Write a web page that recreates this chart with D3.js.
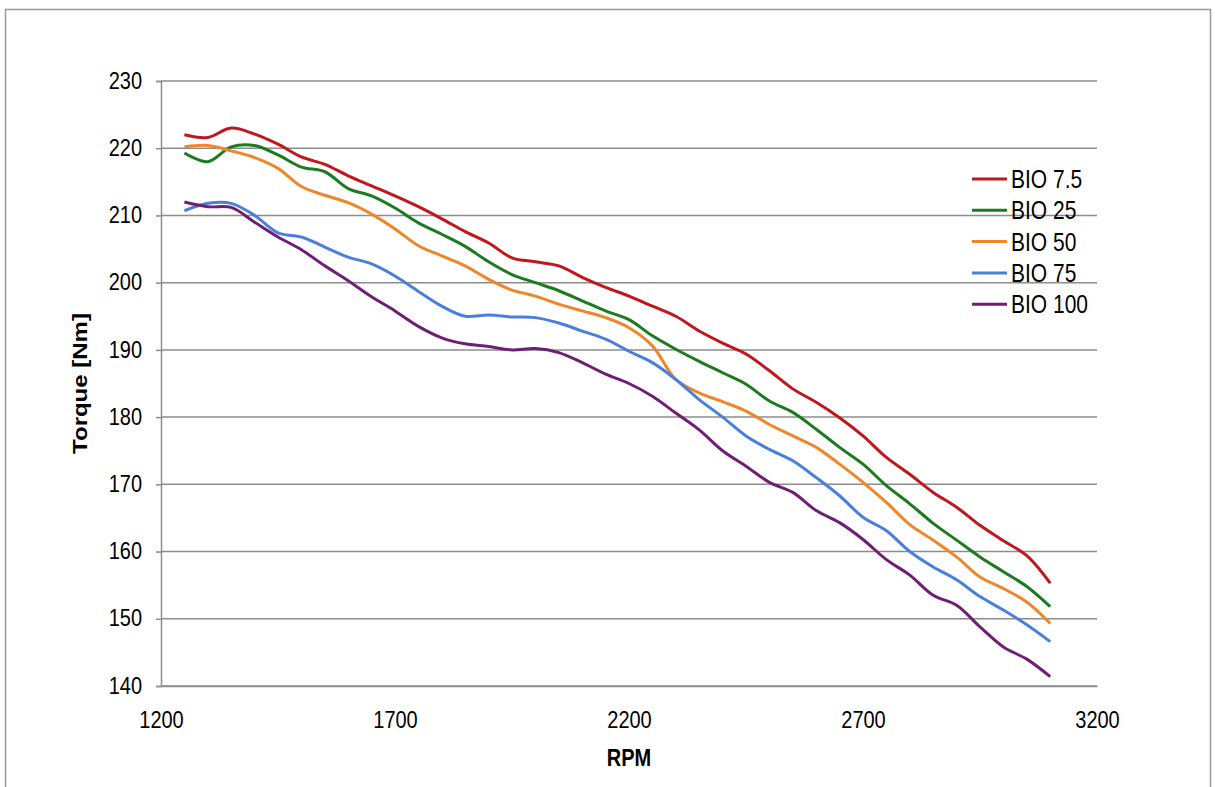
<!DOCTYPE html>
<html lang="en">
<head>
    <meta charset="UTF-8">
    <script type="text/javascript" src="https://d3js.org/d3.v7.min.js"></script>
    <title>Torque vs RPM</title>
    <style>
        body { margin: 0; background: #fff; }
        text { font-family: "Liberation Sans", Arial, sans-serif; fill: #000; }
    </style>
</head>
<body>
    <svg id="plot"></svg>
    <script>
        const width = 1215;
        const height = 787;
        const margin = {"top": 81, "bottom": 101, "left": 161, "right": 118};
        const stretch = "scale(1,1.2)"; // the source image text is a bit taller than wide

        const rpm = [1250, 1300, 1350, 1400, 1450, 1500, 1550, 1600, 1650, 1700, 1750, 1800, 1850, 1900, 1950,
                     2000, 2050, 2100, 2150, 2200, 2250, 2300, 2350, 2400, 2450, 2500, 2550, 2600, 2650, 2700,
                     2750, 2800, 2850, 2900, 2950, 3000, 3050, 3100];
        const bio7_5 = [222.0, 221.6, 223.0, 222.1, 220.6, 218.7, 217.6, 215.9, 214.4, 212.9, 211.3, 209.5, 207.6,
                        205.9, 203.7, 203.1, 202.5, 200.8, 199.3, 198.0, 196.5, 195.0, 192.8, 191.0, 189.4, 186.9,
                        184.2, 182.2, 179.9, 177.2, 174.0, 171.5, 168.8, 166.6, 163.9, 161.6, 159.4, 155.3];
        const bio25 = [219.3, 218.0, 220.2, 220.4, 219.0, 217.2, 216.5, 214.0, 212.9, 211.1, 208.9, 207.2, 205.4,
                       203.1, 201.2, 200.0, 198.8, 197.3, 195.8, 194.5, 192.1, 190.1, 188.3, 186.6, 184.9, 182.4,
                       180.7, 178.2, 175.5, 173.0, 169.8, 167.1, 164.2, 161.7, 159.2, 157.0, 154.8, 151.8];
        const bio50 = [220.2, 220.4, 219.6, 218.6, 217.0, 214.3, 213.0, 211.9, 210.2, 208.0, 205.5, 204.0, 202.5,
                       200.5, 198.9, 198.0, 196.8, 195.8, 194.8, 193.3, 190.6, 185.6, 183.6, 182.3, 180.9, 178.9,
                       177.2, 175.5, 173.0, 170.3, 167.3, 164.0, 161.7, 159.2, 156.2, 154.5, 152.5, 149.3];
        const bio75 = [210.7, 211.8, 211.8, 210.0, 207.4, 206.8, 205.3, 203.8, 202.8, 201.0, 198.7, 196.5, 195.0,
                       195.2, 194.9, 194.8, 194.0, 192.8, 191.6, 189.8, 188.1, 185.6, 182.6, 180.0, 177.2, 175.2,
                       173.5, 171.0, 168.3, 165.1, 163.1, 160.0, 157.7, 155.8, 153.3, 151.3, 149.1, 146.6];
        const bio100 = [212.0, 211.3, 211.2, 209.0, 206.8, 204.9, 202.5, 200.3, 197.9, 195.8, 193.5, 191.8, 190.9,
                        190.5, 190.0, 190.2, 189.6, 188.1, 186.4, 185.0, 183.1, 180.6, 178.1, 175.0, 172.7, 170.3,
                        168.8, 166.1, 164.3, 161.8, 158.8, 156.5, 153.5, 152.0, 148.8, 145.8, 144.0, 141.4];

        const seriesNames = ["BIO 7.5", "BIO 25", "BIO 50", "BIO 75", "BIO 100"];
        const seriesValues = [bio7_5, bio25, bio50, bio75, bio100];
        const seriesColors = ["#c0161c", "#1d7b1f", "#f0862a", "#4a7fdc", "#6e1f73"];
        const xTicks = [1200, 1700, 2200, 2700, 3200];
        const yTicks = [140, 150, 160, 170, 180, 190, 200, 210, 220, 230];

        const svg = d3.select("#plot").attr("width", width).attr("height", height);

        // outer frame
        svg.append("rect").attr("x", 5.5).attr("y", 9.5).attr("width", 1205).attr("height", 790)
            .attr("fill", "none").attr("stroke", "#999").attr("stroke-width", 1.5);

        var x = d3.scaleLinear()
            .domain([1200, 3200])
            .range([margin.left, width - margin.right]);
        var y = d3.scaleLinear()
            .domain([140, 230])
            .range([height - margin.bottom, margin.top]);

        // gridlines
        svg.append("g").selectAll("line").data(yTicks).join("line")
            .attr("x1", x(1200)).attr("x2", x(3200))
            .attr("y1", d => y(d)).attr("y2", d => y(d))
            .attr("stroke", "#8c8c8c").attr("stroke-width", 1.5);

        var y_axis = d3.axisLeft(y).tickValues(yTicks).tickSize(5).tickPadding(14);
        svg.append("g").attr("transform", `translate(${margin.left}, 0)`).call(y_axis)
            .call(g => g.selectAll("line,path").attr("stroke", "#8c8c8c").attr("stroke-width", 1.5))
            .call(g => g.selectAll("text").attr("font-size", 20).attr("dy", "0.3em")
                .attr("font-family", "Liberation Sans, Arial, sans-serif").attr("transform", stretch));

        var x_axis = d3.axisBottom(x).tickValues(xTicks).tickSize(0).tickPadding(21).tickFormat(d3.format("d"));
        svg.append("g").attr("transform", `translate(0, ${y(140)})`).call(x_axis)
            .call(g => g.selectAll("path").attr("stroke", "#8c8c8c").attr("stroke-width", 1.5))
            .call(g => g.selectAll("text").attr("font-size", 20)
                .attr("font-family", "Liberation Sans, Arial, sans-serif").attr("transform", stretch));

        // axis titles
        svg.append("text").attr("transform", `translate(${x(2200)}, 766) ${stretch}`)
            .attr("text-anchor", "middle").attr("font-size", 20).attr("font-weight", "bold").text("RPM");
        svg.append("text")
            .attr("transform", `translate(87, ${(y(140) + y(230)) / 2}) ${stretch} rotate(-90)`)
            .attr("text-anchor", "middle").attr("font-size", 20).attr("font-weight", "bold").text("Torque  [Nm]");

        var line = d3.line()
            .x((d, i) => x(rpm[i]))
            .y(d => y(d))
            .curve(d3.curveCatmullRom);

        svg.append("g").selectAll("path").data(seriesValues).join("path")
            .attr("d", d => line(d))
            .attr("fill", "none")
            .attr("stroke", (d, i) => seriesColors[i])
            .attr("stroke-width", 3)
            .attr("stroke-linejoin", "round");

        // legend
        const legend = svg.append("g").attr("transform", "translate(972, 179)");
        const rows = legend.selectAll("g").data(seriesNames).join("g")
            .attr("transform", (d, i) => `translate(0, ${i * 31.3})`);
        rows.append("line").attr("x1", 0).attr("x2", 35).attr("y1", 0).attr("y2", 0)
            .attr("stroke", (d, i) => seriesColors[i]).attr("stroke-width", 3);
        rows.append("text").attr("x", 39).attr("y", 0).attr("dy", "0.36em")
            .attr("transform", stretch)
            .attr("font-size", 21).text(d => d);
    </script>
</body>
</html>
